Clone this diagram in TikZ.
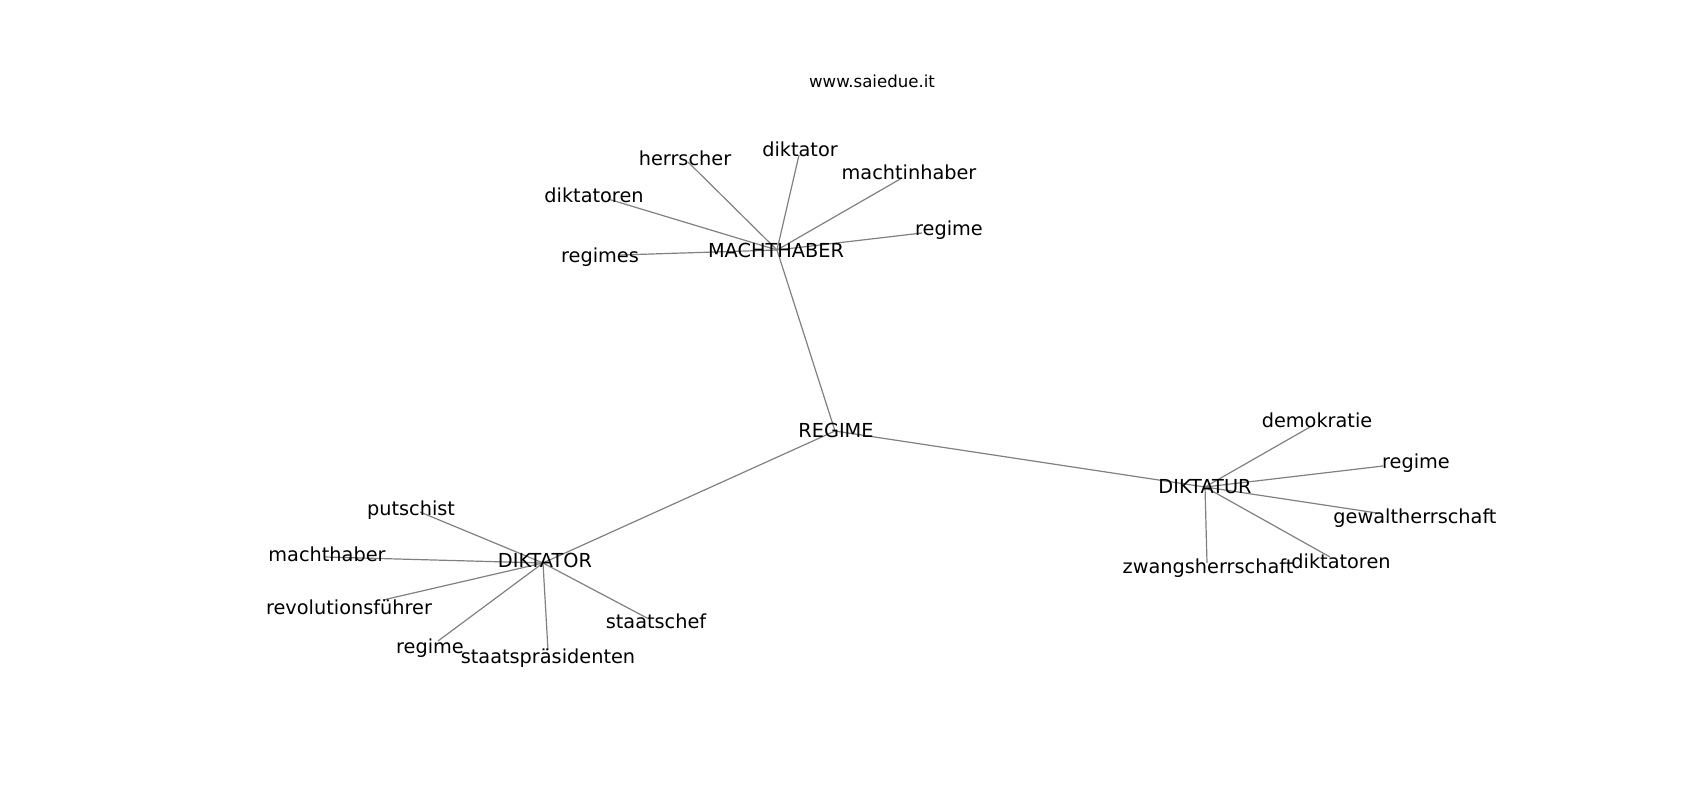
\documentclass[tikz,border=0pt]{standalone}
\usepackage{fontspec}
\setmainfont{DejaVu Sans}
\begin{document}
\begin{tikzpicture}[x=1pt,y=-1pt,
  edge/.style={draw=gray,line width=1.2pt},
  lbl/.style={anchor=base,inner sep=0pt,font=\fontsize{19.3}{23}\selectfont},
  ttl/.style={anchor=base,inner sep=0pt,font=\fontsize{16.6}{19}\selectfont}]
\useasboundingbox (0,0) rectangle (1700,800);
% node points
\coordinate (pM) at (777,250);
\coordinate (pR) at (835,431);
\coordinate (pDR) at (543,563);
\coordinate (pDU) at (1205,487);
\coordinate (pM1) at (688,162);
\coordinate (pM2) at (799,155);
\coordinate (pM3) at (902,178);
\coordinate (pM4) at (608,199);
\coordinate (pM5) at (922,233);
\coordinate (pM6) at (620,255);
\coordinate (pA1) at (420,512);
\coordinate (pA2) at (325,557);
\coordinate (pA3) at (383,600);
\coordinate (pA4) at (438,641);
\coordinate (pA5) at (548,650);
\coordinate (pA6) at (647,618);
\coordinate (pB1) at (1310,427);
\coordinate (pB2) at (1383,466);
\coordinate (pB3) at (1377,513);
\coordinate (pB4) at (1330,557);
\coordinate (pB5) at (1207,563);
% edges
\draw[edge] (pR) -- (pM);
\draw[edge] (pR) -- (pDR);
\draw[edge] (pR) -- (pDU);
\foreach \t in {pM1,pM2,pM3,pM4,pM5,pM6} \draw[edge] (pM) -- (\t);
\foreach \t in {pA1,pA2,pA3,pA4,pA5,pA6} \draw[edge] (pDR) -- (\t);
\foreach \t in {pB1,pB2,pB3,pB4,pB5} \draw[edge] (pDU) -- (\t);
% labels
\node[ttl] (title) at (872,88) {www.saiedue.it};
\node[lbl] (M) at (776,257) {MACHTHABER};
\node[lbl] (R) at (836,437) {REGIME};
\node[lbl] (DR) at (545,567) {DIKTATOR};
\node[lbl] (DU) at (1205,493) {DIKTATUR};
\node[lbl] (M1) at (685,165) {herrscher};
\node[lbl] (M2) at (800,156) {diktator};
\node[lbl] (M3) at (909,179) {machtinhaber};
\node[lbl] (M4) at (594,202) {diktatoren};
\node[lbl] (M5) at (949,235) {regime};
\node[lbl] (M6) at (600,262) {regimes};
\node[lbl] (A1) at (411,515) {putschist};
\node[lbl] (A2) at (327,561) {machthaber};
\node[lbl] (A3) at (349,614) {revolutionsführer};
\node[lbl] (A4) at (430,653) {regime};
\node[lbl] (A5) at (548,663) {staatspräsidenten};
\node[lbl] (A6) at (656,628) {staatschef};
\node[lbl] (B1) at (1317,427) {demokratie};
\node[lbl] (B2) at (1416,468) {regime};
\node[lbl] (B3) at (1415,523) {gewaltherrschaft};
\node[lbl] (B4) at (1341,568) {diktatoren};
\node[lbl] (B5) at (1208,573) {zwangsherrschaft};
\end{tikzpicture}
\end{document}
